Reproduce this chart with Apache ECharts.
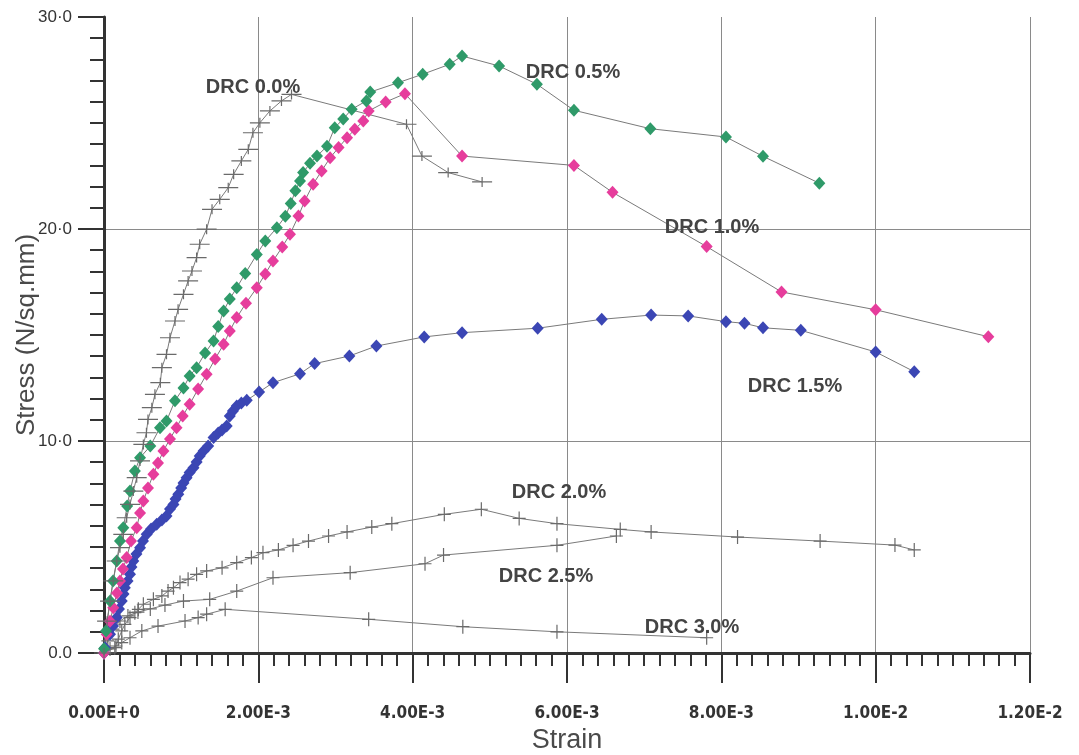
<!DOCTYPE html>
<html>
<head>
<meta charset="utf-8">
<script src="https://cdn.jsdelivr.net/npm/echarts@6/dist/echarts.min.js"></script>
<style>
html,body{margin:0;padding:0;background:#fff;}
#chart{width:1079px;height:755px;}
</style>
</head>
<body>
<div id="chart"></div>
<script>
// Strain values are in units of 1e-3; stress in N/sq.mm
var xTickLabels = ['0.00E+0','2.00E-3','4.00E-3','6.00E-3','8.00E-3','1.00E-2','1.20E-2'];
var yTickLabels = ['0.0','10·0','20·0','30·0'];
var seriesNames = ['DRC 3.0%','DRC 2.5%','DRC 2.0%','DRC 1.5%','DRC 1.0%','DRC 0.5%','DRC 0.0%'];

var drc00Strain = [0,0.04,0.078,0.12,0.165,0.207,0.25,0.294,0.337,0.38,0.424,0.467,0.51,0.55,0.57,0.62,0.66,0.73,0.75,0.81,0.855,0.92,0.96,1.03,1.09,1.14,1.20,1.24,1.33,1.40,1.50,1.61,1.68,1.78,1.87,1.93,2.02,2.15,2.30,2.43,3.92,4.12,4.46,4.90];
var drc00Stress = [0,1.5,2.45,3.4,4.34,4.97,5.6,6.38,7.01,7.64,8.27,9.06,9.84,10.39,11.02,11.57,12.2,12.75,13.46,14.09,14.87,15.66,16.21,16.92,17.55,18.02,18.65,19.28,19.99,20.93,21.4,21.95,22.58,23.21,23.76,24.54,25.01,25.57,26.04,26.35,24.94,23.44,22.66,22.22];

var drc05Strain = [0,0.026,0.078,0.117,0.165,0.207,0.25,0.30,0.337,0.40,0.467,0.60,0.726,0.81,0.92,1.03,1.11,1.20,1.31,1.42,1.48,1.55,1.63,1.72,1.83,1.98,2.09,2.24,2.35,2.42,2.48,2.54,2.58,2.67,2.76,2.89,2.99,3.10,3.21,3.40,3.45,3.81,4.13,4.48,4.64,5.12,5.61,6.09,7.08,8.06,8.54,9.27];
var drc05Stress = [0.2,1.04,2.45,3.4,4.34,5.28,5.91,6.93,7.64,8.58,9.21,9.76,10.63,10.94,11.9,12.5,13.07,13.46,14.15,14.72,15.4,16.13,16.7,17.23,17.9,18.8,19.43,20.06,20.6,21.2,21.8,22.26,22.66,23.1,23.44,23.9,24.78,25.19,25.65,26.04,26.46,26.9,27.3,27.77,28.16,27.69,26.83,25.6,24.73,24.34,23.43,22.16];

var drc10Strain = [0,0.035,0.078,0.12,0.168,0.207,0.246,0.294,0.35,0.424,0.467,0.51,0.57,0.64,0.70,0.77,0.855,0.94,1.02,1.11,1.22,1.33,1.44,1.55,1.63,1.72,1.84,1.98,2.09,2.19,2.31,2.41,2.52,2.60,2.71,2.82,2.93,3.04,3.15,3.25,3.36,3.43,3.65,3.90,4.64,6.09,6.59,7.81,8.78,10.0,11.46];
var drc10Stress = [0,0.88,1.5,2.14,2.83,3.4,3.96,4.5,5.28,5.91,6.6,7.17,7.78,8.43,8.96,9.53,10.1,10.63,11.18,11.73,12.45,13.15,13.87,14.56,15.19,15.82,16.5,17.23,17.88,18.49,19.15,19.75,20.61,21.32,22.11,22.74,23.36,23.84,24.31,24.7,25.09,25.57,25.99,26.38,23.44,23.0,21.73,19.17,17.03,16.19,14.92];

var drc15Strain = [0,0.013,0.078,0.117,0.165,0.194,0.23,0.253,0.27,0.305,0.337,0.356,0.38,0.42,0.467,0.505,0.553,0.61,0.683,0.75,0.81,0.855,0.90,0.927,0.963,1.0,1.03,1.07,1.11,1.16,1.2,1.24,1.29,1.35,1.42,1.48,1.53,1.59,1.63,1.67,1.72,1.78,1.85,2.01,2.19,2.54,2.73,3.18,3.53,4.15,4.64,5.62,6.45,7.09,7.57,8.06,8.30,8.54,9.03,10.0,10.5];
var drc15Stress = [0,0.25,0.88,1.27,1.67,2.08,2.45,2.78,3.08,3.4,3.71,4.06,4.34,4.67,4.97,5.28,5.6,5.85,6.07,6.27,6.46,6.79,7.01,7.26,7.49,7.78,8.02,8.27,8.51,8.74,9.01,9.29,9.53,9.76,10.16,10.38,10.52,10.71,11.18,11.42,11.65,11.79,11.92,12.31,12.75,13.17,13.65,14.01,14.48,14.91,15.11,15.32,15.74,15.94,15.9,15.63,15.55,15.34,15.22,14.2,13.27];

var drc20Strain = [0,0.14,0.185,0.23,0.27,0.337,0.40,0.445,0.51,0.64,0.75,0.83,0.90,0.985,1.09,1.20,1.33,1.53,1.72,1.91,2.06,2.26,2.45,2.65,2.91,3.15,3.47,3.73,4.41,4.89,5.38,5.87,6.69,7.09,8.21,9.28,10.25,10.5];
var drc20Stress = [0,0.25,0.65,1.04,1.35,1.67,1.9,2.06,2.3,2.53,2.69,2.92,3.08,3.32,3.48,3.71,3.87,4.02,4.26,4.5,4.73,4.86,5.08,5.28,5.52,5.71,5.94,6.1,6.54,6.78,6.35,6.1,5.83,5.71,5.47,5.28,5.09,4.86];

var drc25Strain = [0,0.05,0.117,0.207,0.31,0.44,0.6,0.79,1.03,1.37,1.72,2.19,3.19,4.16,4.40,5.87,6.64];
var drc25Stress = [0,0.57,1.13,1.51,1.75,1.93,2.08,2.26,2.45,2.53,2.92,3.55,3.79,4.21,4.62,5.08,5.52];

var drc30Strain = [0,0.078,0.155,0.23,0.337,0.49,0.70,1.05,1.22,1.33,1.57,3.43,4.65,5.87,7.81];
var drc30Stress = [0,0.19,0.33,0.49,0.72,1.04,1.27,1.51,1.67,1.83,2.06,1.59,1.24,1.0,0.72];

function zip(a, b) { return a.map(function (v, i) { return [v, b[i]]; }); }

var crossWide = 'path://M0,4.4h20v1.2h-20z M9.4,0h1.2v10h-1.2z';
var crossTall = 'path://M0,6.4h13v1.2h-13z M5.9,0h1.2v14h-1.2z';
var lineStyle = { color: '#7a7a7a', width: 1 };

function crossSeries(name, data, sym, size) {
  return {
    name: name, type: 'line', data: data, symbol: sym, symbolSize: size,
    showAllSymbol: true, lineStyle: lineStyle,
    itemStyle: { color: '#6a6a6a' }, emphasis: { disabled: true }
  };
}
function diamondSeries(name, data, color) {
  return {
    name: name, type: 'line', data: data, symbol: 'diamond', symbolSize: [12, 13],
    showAllSymbol: true, lineStyle: lineStyle,
    itemStyle: { color: color }, emphasis: { disabled: true }
  };
}

var chart = echarts.init(document.getElementById('chart'), null, { renderer: 'canvas' });
var tickFont = "'DejaVu Sans Condensed', 'Liberation Sans', sans-serif";
var labelStyle = { align: 'center', verticalAlign: 'middle', fontSize: 20, fontWeight: 'bold', fill: '#444', fontFamily: 'Liberation Sans' };
function label(text, x, y) {
  return { type: 'text', x: x, y: y, z: 100, style: Object.assign({ text: text }, labelStyle) };
}
var option = {
  animation: false,
  backgroundColor: '#ffffff',
  grid: { left: 104, right: 49, top: 17, bottom: 102, containLabel: false, outerBoundsMode: 'none' },
  xAxis: {
    type: 'value', min: 0, max: 12, interval: 2,
    name: 'Strain', nameLocation: 'middle', nameGap: 74, nameMoveOverlap: false,
    nameTextStyle: { fontSize: 27, color: '#4a4a4a', fontFamily: 'Liberation Sans' },
    axisLine: { show: true, onZero: false, lineStyle: { color: '#333', width: 3 } },
    axisTick: { show: true, length: 30, lineStyle: { color: '#333', width: 2 } },
    minorTick: { show: true, splitNumber: 10, length: 13, lineStyle: { color: '#333', width: 2 } },
    axisLabel: {
      margin: 52, fontSize: 17, fontWeight: 'bold', color: '#333', fontFamily: tickFont,
      formatter: function (v) { return xTickLabels[Math.round(v / 2)]; }
    },
    splitLine: { show: true, lineStyle: { color: '#8a8a8a', width: 1 } }
  },
  yAxis: {
    type: 'value', min: 0, max: 30, interval: 10,
    name: 'Stress (N/sq.mm)', nameLocation: 'middle', nameGap: 64, nameRotate: 90, nameMoveOverlap: false,
    nameTextStyle: { fontSize: 26, color: '#4a4a4a', fontFamily: 'Liberation Sans' },
    axisLine: { show: true, onZero: false, lineStyle: { color: '#333', width: 3 } },
    axisTick: { show: true, length: 26, lineStyle: { color: '#333', width: 2 } },
    minorTick: { show: true, splitNumber: 10, length: 14, lineStyle: { color: '#333', width: 2 } },
    axisLabel: {
      margin: 32, fontSize: 17, color: '#333', fontFamily: 'Liberation Sans',
      formatter: function (v) { return yTickLabels[Math.round(v / 10)]; }
    },
    splitLine: { show: true, showMaxLine: false, lineStyle: { color: '#8a8a8a', width: 1 } }
  },
  series: [
    crossSeries(seriesNames[0], zip(drc30Strain, drc30Stress), crossTall, [13, 14]),
    crossSeries(seriesNames[1], zip(drc25Strain, drc25Stress), crossTall, [13, 14]),
    crossSeries(seriesNames[2], zip(drc20Strain, drc20Stress), crossTall, [13, 14]),
    diamondSeries(seriesNames[3], zip(drc15Strain, drc15Stress), '#3b46b4'),
    diamondSeries(seriesNames[4], zip(drc10Strain, drc10Stress), '#e63d9c'),
    diamondSeries(seriesNames[5], zip(drc05Strain, drc05Stress), '#2f9a69'),
    crossSeries(seriesNames[6], zip(drc00Strain, drc00Stress), crossWide, [20, 10])
  ],
  graphic: [
    label(seriesNames[6], 253, 87),
    label(seriesNames[5], 573, 72),
    label(seriesNames[4], 712, 227),
    label(seriesNames[3], 795, 386),
    label(seriesNames[2], 559, 492),
    label(seriesNames[1], 546, 576),
    label(seriesNames[0], 692, 627)
  ]
};
chart.setOption(option);
</script>
</body>
</html>
